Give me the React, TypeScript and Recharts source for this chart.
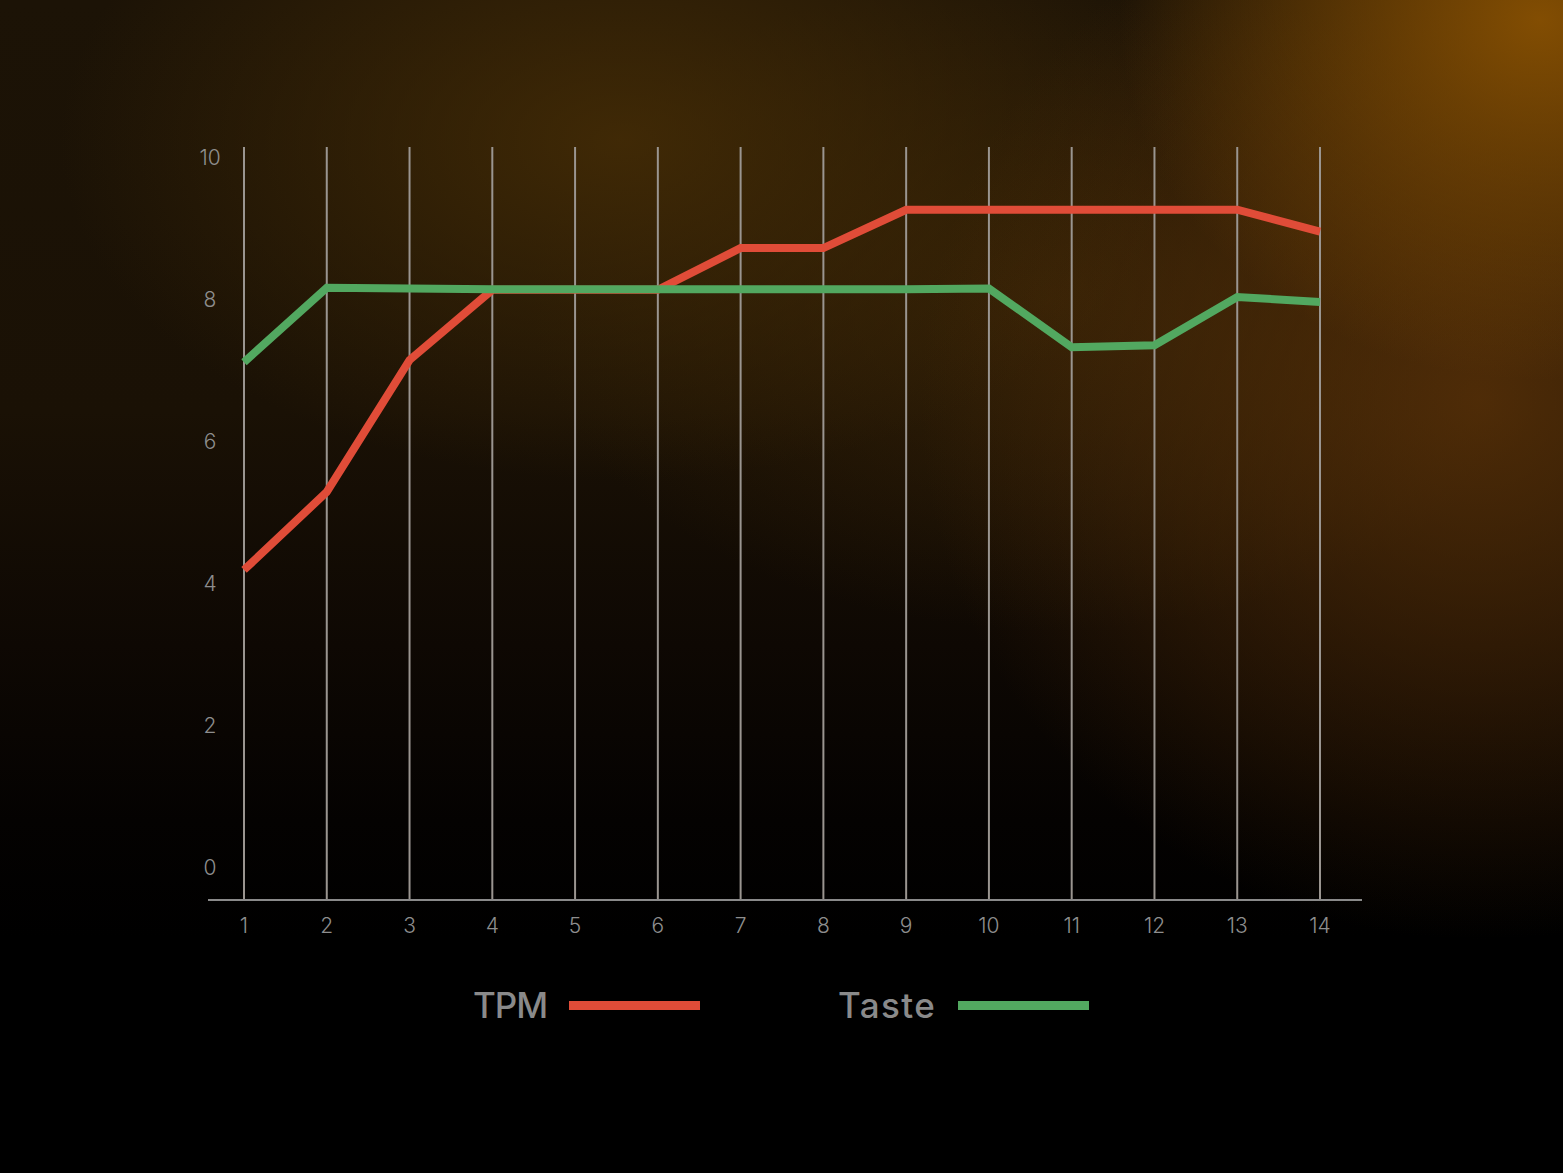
import React from "react";
import {
  LineChart,
  Line,
  XAxis,
  YAxis,
  CartesianGrid,
  Legend,
} from "recharts";

const DAYS = ["1", "2", "3", "4", "5", "6", "7", "8", "9", "10", "11", "12", "13", "14"];
const TPM = [4.19, 5.29, 7.15, 8.14, 8.14, 8.14, 8.73, 8.73, 9.27, 9.27, 9.27, 9.27, 9.27, 8.96];
const TASTE = [7.12, 8.17, 8.16, 8.15, 8.15, 8.15, 8.15, 8.15, 8.15, 8.16, 7.33, 7.36, 8.04, 7.97];
const Y_TICKS = [0, 2, 4, 6, 8, 10];

const SERIES = [
  { key: "tpm", name: "TPM", color: "#e04c38", left: 473, spacing: -1 },
  { key: "taste", name: "Taste", color: "#52a860", left: 838, spacing: 1.4 },
];

const data = DAYS.map((d, i) => ({ day: d, tpm: TPM[i], taste: TASTE[i] }));

const TICK_FONT = "Inter, 'Open Sans', sans-serif";

const YTick = (props: any) => {
  const { y, payload } = props;
  return (
    <text
      x={210}
      y={y}
      textAnchor="middle"
      dominantBaseline="central"
      fill="#8e8e8e"
      fontSize={21}
      fontWeight={300}
      fontFamily={TICK_FONT}
    >
      {payload.value}
    </text>
  );
};

const XTick = (props: any) => {
  const { x, y, payload } = props;
  return (
    <text
      x={x}
      y={y + 17}
      textAnchor="middle"
      dominantBaseline="central"
      fill="#8e8e8e"
      fontSize={21}
      fontWeight={300}
      fontFamily={TICK_FONT}
    >
      {payload.value}
    </text>
  );
};

const LegendContent = () => (
  <div style={{ position: "relative", width: 1563, height: 60 }}>
    {SERIES.map((s) => (
      <div
        key={s.key}
        style={{
          position: "absolute",
          left: s.left,
          top: 0,
          display: "flex",
          alignItems: "center",
          height: 60,
        }}
      >
        <span
          style={{
            fontFamily: TICK_FONT,
            fontSize: 35,
            fontWeight: 500,
            color: "#8a8a8a",
            letterSpacing: s.spacing,
          }}
        >
          {s.name}
        </span>
        <span
          style={{
            display: "inline-block",
            width: 131,
            height: 9,
            marginLeft: 22,
            background: s.color,
          }}
        />
      </div>
    ))}
  </div>
);

export default function App() {
  return (
    <div
      style={{
        position: "absolute",
        left: 0,
        top: 0,
        width: 1563,
        height: 1173,
        overflow: "hidden",
        background: [
          "radial-gradient(ellipse 420px 360px at 1540px 20px, rgba(135,80,2,0.95), rgba(135,80,2,0) 100%)",
          "radial-gradient(ellipse 560px 540px at 1480px 400px, rgba(95,52,8,0.75), rgba(95,52,8,0) 100%)",
          "radial-gradient(ellipse 560px 340px at 620px 140px, rgba(70,45,6,0.85), rgba(70,45,6,0) 100%)",
          "radial-gradient(ellipse 520px 330px at 1050px 300px, rgba(58,36,6,0.75), rgba(58,36,6,0) 100%)",
          "linear-gradient(to bottom, #1c1306 0%, #1a1105 35%, #0e0803 55%, #040201 70%, #000 80%)",
        ].join(", "),
      }}
    >
      <LineChart
        width={1563}
        height={1173}
        data={data}
        margin={{ top: 147, right: 201, bottom: 213, left: 168 }}
      >
        <CartesianGrid
          vertical
          horizontal={false}
          syncWithTicks
          stroke="#9a9590"
          strokeWidth={2}
        />
        <XAxis
          dataKey="day"
          height={60}
          padding={{ left: 36, right: 42 }}
          axisLine={{ stroke: "#8a8a8a", strokeWidth: 2 }}
          tickLine={false}
          tick={<XTick />}
          interval={0}
        />
        <YAxis
          width={40}
          domain={[-0.465, 10.155]}
          ticks={Y_TICKS}
          allowDataOverflow
          axisLine={false}
          tickLine={false}
          tick={<YTick />}
        />
        <Legend
          layout="horizontal"
          verticalAlign="middle"
          align="center"
          wrapperStyle={{ top: 975, left: 0, width: 1563, height: 60 }}
          content={<LegendContent />}
        />
        <Line
          type="linear"
          dataKey="tpm"
          name="TPM"
          stroke={SERIES[0].color}
          strokeWidth={8}
          dot={false}
          activeDot={false}
          isAnimationActive={false}
        />
        <Line
          type="linear"
          dataKey="taste"
          name="Taste"
          stroke={SERIES[1].color}
          strokeWidth={8}
          dot={false}
          activeDot={false}
          isAnimationActive={false}
        />
      </LineChart>
    </div>
  );
}
